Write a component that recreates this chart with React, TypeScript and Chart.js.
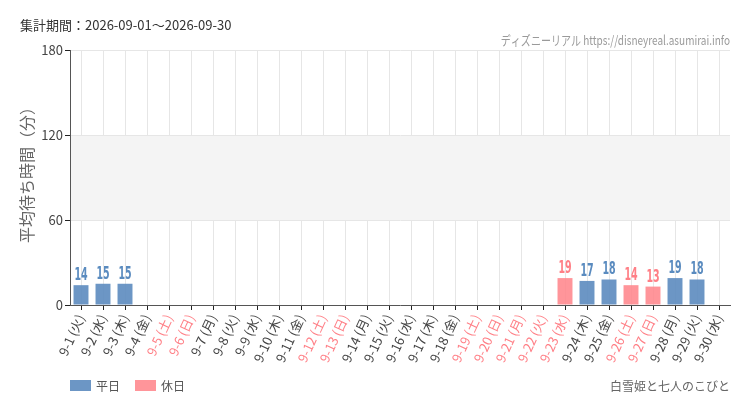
import React, { useEffect, useRef } from "react";
import { Chart, registerables } from "chart.js";

Chart.register(...registerables);

const dateLabels = [
  "9-1", "9-2", "9-3", "9-4", "9-5", "9-6", "9-7", "9-8", "9-9", "9-10",
  "9-11", "9-12", "9-13", "9-14", "9-15", "9-16", "9-17", "9-18", "9-19", "9-20",
  "9-21", "9-22", "9-23", "9-24", "9-25", "9-26", "9-27", "9-28", "9-29", "9-30"
];
const dayLabels = [
  "火", "水", "木", "金", "土", "日", "月", "火", "水", "木",
  "金", "土", "日", "月", "火", "水", "木", "金", "土", "日",
  "月", "火", "水", "木", "金", "土", "日", "月", "火", "水"
];
const holidayFlags = [
  false, false, false, false, true, true, false, false, false, false,
  false, true, true, false, false, false, false, false, true, true,
  true, true, true, false, false, true, true, false, false, false
];
const waitTimes: (number | null)[] = [
  14, 15, 15, null, null, null, null, null, null, null,
  null, null, null, null, null, null, null, null, null, null,
  null, null, 19, 17, 18, 14, 13, 19, 18, null
];
const yTicks = [0, 60, 120, 180];

const BLUE = "rgba(92,139,191,0.9)";
const PINK = "rgba(255,130,136,0.85)";
const BLUE_TEXT = "#5a8bbf";
const PINK_TEXT = "#ff7f86";
const JP = "'Noto Sans CJK JP', 'Noto Sans', sans-serif";
const SANS = "'DejaVu Sans', sans-serif";

// draws text squeezed horizontally (no condensed font installed)
function narrowText(ctx: any, text: string, x: number, y: number, sx: number) {
  ctx.save();
  ctx.translate(x, y);
  ctx.scale(sx, 1);
  ctx.fillText(text, 0, 0);
  ctx.restore();
}

const decorPlugin = {
  id: "decor",
  beforeDatasetsDraw(chart: any) {
    const { ctx, chartArea } = chart;
    const y = chart.scales.y;
    ctx.save();
    ctx.fillStyle = "#f4f4f4";
    const top = y.getPixelForValue(120);
    const bottom = y.getPixelForValue(60);
    ctx.fillRect(chartArea.left + 1, top + 1, chartArea.right - chartArea.left - 1, bottom - top - 1);
    ctx.restore();
  },
  afterDraw(chart: any) {
    const { ctx } = chart;
    ctx.save();
    ctx.textBaseline = "middle";
    ctx.textAlign = "left";
    ctx.fillStyle = "#333";
    ctx.font = `13px ${JP}`;
    ctx.fillText("集計期間：2026-09-01～2026-09-30", 20, 25);

    ctx.textAlign = "right";
    ctx.fillStyle = "#9a9a9a";
    ctx.font = `13px ${JP}`;
    narrowText(ctx, "ディズニーリアル https://disneyreal.asumirai.info", 730, 40, 0.77);

    ctx.fillStyle = "#666";
    ctx.font = `12px ${JP}`;
    ctx.fillText("白雪姫と七人のこびと", 730, 386);

    // legend
    ctx.textAlign = "left";
    ctx.font = `12px ${JP}`;
    ctx.fillStyle = BLUE;
    ctx.fillRect(70, 380, 21, 11);
    ctx.fillStyle = "#555";
    ctx.fillText("平日", 96, 386);
    ctx.fillStyle = PINK;
    ctx.fillRect(135, 380, 21, 11);
    ctx.fillStyle = "#555";
    ctx.fillText("休日", 161, 386);

    // y axis title
    ctx.translate(27, 171);
    ctx.rotate(-Math.PI / 2);
    ctx.textAlign = "center";
    ctx.fillStyle = "#666";
    ctx.font = `16px ${JP}`;
    ctx.fillText("平均待ち時間（分）", 0, 0);
    ctx.restore();
  },
  afterDatasetsDraw(chart: any) {
    const { ctx } = chart;
    ctx.save();
    ctx.textAlign = "center";
    ctx.textBaseline = "bottom";
    ctx.font = `bold 17px ${SANS}`;
    chart.data.datasets.forEach((ds: any, di: number) => {
      const meta = chart.getDatasetMeta(di);
      meta.data.forEach((bar: any, i: number) => {
        const v = ds.data[i];
        if (v === null || v === undefined) return;
        ctx.fillStyle = di === 0 ? BLUE_TEXT : PINK_TEXT;
        narrowText(ctx, String(v), bar.x, bar.y - 1, 0.56);
      });
    });
    ctx.restore();
  }
};

export default function App() {
  const chartRef = useRef<HTMLCanvasElement>(null);
  const chartInstance = useRef<Chart>();

  useEffect(() => {
    if (!chartRef.current) return;
    const ctx = chartRef.current.getContext("2d");
    if (!ctx) return;
    if (chartInstance.current) chartInstance.current.destroy();

    const labels = dateLabels.map((d, i) => `${d} (${dayLabels[i]})`);
    const weekday = waitTimes.map((v, i) => (holidayFlags[i] ? null : v));
    const holiday = waitTimes.map((v, i) => (holidayFlags[i] ? v : null));

    chartInstance.current = new Chart(ctx, {
      type: "bar",
      data: {
        labels,
        datasets: [
          { label: "平日", data: weekday, backgroundColor: BLUE, borderWidth: 0 },
          { label: "休日", data: holiday, backgroundColor: PINK, borderWidth: 0 }
        ]
      },
      options: {
        animation: false,
        responsive: true,
        maintainAspectRatio: false,
        layout: { padding: { top: 50, right: 20, left: 0, bottom: 0 } },
        datasets: { bar: { categoryPercentage: 1, barPercentage: 0.68 } },
        plugins: { legend: { display: false }, tooltip: { enabled: false } },
        scales: {
          x: {
            stacked: true,
            afterFit(scale: any) {
              scale.height = 105;
            },
            grid: { offset: false, color: "#e6e6e6", tickColor: "#222", tickLength: 5 },
            border: { color: "#555", width: 1 },
            ticks: {
              autoSkip: false,
              minRotation: 65,
              maxRotation: 65,
              padding: 2,
              font: { size: 13, family: JP },
              color: (c: any) => (holidayFlags[c.index] ? PINK_TEXT : "#444")
            }
          },
          y: {
            min: 0,
            max: 180,
            afterFit(scale: any) {
              scale.width = 70;
            },
            afterBuildTicks(scale: any) {
              scale.ticks = yTicks.map((v) => ({ value: v }));
            },
            grid: { color: "#e6e6e6", tickColor: "#222", tickLength: 5 },
            border: { color: "#555", width: 1 },
            ticks: { padding: 2, font: { size: 13, family: JP }, color: "#444" }
          }
        }
      },
      plugins: [decorPlugin]
    });

    return () => {
      if (chartInstance.current) chartInstance.current.destroy();
    };
  }, []);

  return (
    <div style={{ position: "absolute", left: 0, top: 0, width: 750, height: 410, background: "#fff" }}>
      <canvas ref={chartRef} />
    </div>
  );
}
